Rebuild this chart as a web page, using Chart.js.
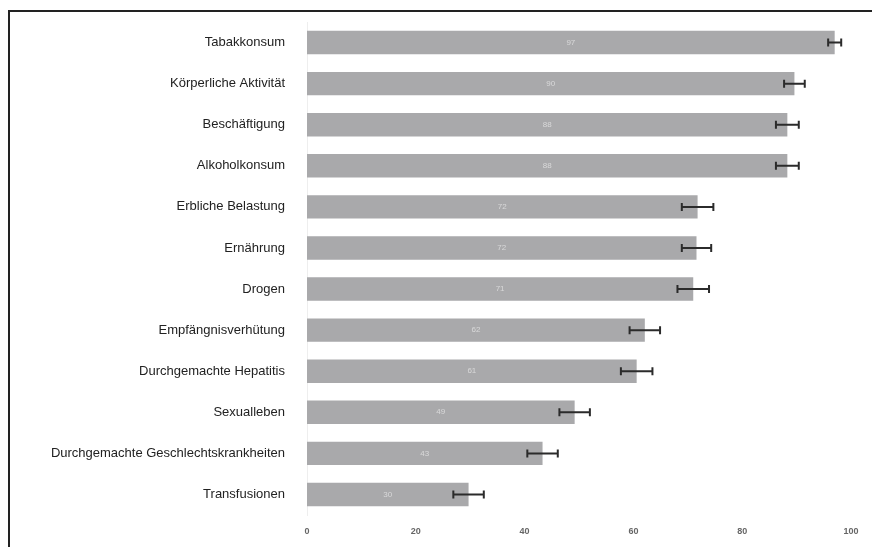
<!DOCTYPE html>
<html>
<head>
<meta charset="utf-8">
<script src="https://cdn.jsdelivr.net/npm/chart.js@4.4.1/dist/chart.umd.min.js"></script>
<style>
  html, body { margin: 0; padding: 0; background: #fff; overflow: hidden; }
  #wrap { position: relative; width: 872px; height: 547px; }
  #frame { position: absolute; left: 8px; top: 10px; width: 900px; height: 600px;
           border-top: 2px solid #222; border-left: 2px solid #222; }
  #chart { position: absolute; left: 0; top: 0; }
</style>
</head>
<body>
<div id="wrap">
  <div id="frame"></div>
  <canvas id="chart" width="872" height="547"></canvas>
</div>
<script>
const categories = [
  'Tabakkonsum',
  'Körperliche Aktivität',
  'Beschäftigung',
  'Alkoholkonsum',
  'Erbliche Belastung',
  'Ernährung',
  'Drogen',
  'Empfängnisverhütung',
  'Durchgemachte Hepatitis',
  'Sexualleben',
  'Durchgemachte Geschlechtskrankheiten',
  'Transfusionen'
];
const values = [97.0, 89.6, 88.3, 88.3, 71.8, 71.6, 71.0, 62.1, 60.6, 49.2, 43.3, 29.7];
const errors = [1.2, 1.9, 2.1, 2.1, 2.9, 2.7, 2.9, 2.8, 2.9, 2.8, 2.8, 2.8];
const xTicks = [0, 20, 40, 60, 80, 100];

const errorBars = {
  id: 'errorBars',
  afterDatasetsDraw(chart) {
    const ctx = chart.ctx;
    const x = chart.scales.x;
    const meta = chart.getDatasetMeta(0);
    ctx.save();
    ctx.strokeStyle = '#2b2b2b';
    ctx.lineWidth = 2;
    meta.data.forEach((bar, i) => {
      const y = bar.y;
      const x1 = x.getPixelForValue(values[i] - errors[i]);
      const x2 = x.getPixelForValue(values[i] + errors[i]);
      ctx.beginPath();
      ctx.moveTo(x1, y); ctx.lineTo(x2, y);
      ctx.moveTo(x1, y - 4); ctx.lineTo(x1, y + 4);
      ctx.moveTo(x2, y - 4); ctx.lineTo(x2, y + 4);
      ctx.stroke();
    });
    // faint value labels inside the bars
    ctx.fillStyle = 'rgba(255,255,255,0.55)';
    ctx.font = '8px "Liberation Sans", Arial, sans-serif';
    ctx.textAlign = 'center';
    ctx.textBaseline = 'middle';
    meta.data.forEach((bar, i) => {
      const mid = (x.getPixelForValue(0) + bar.x) / 2;
      ctx.fillText(Math.round(values[i]), mid, bar.y);
    });
    ctx.restore();
  }
};

new Chart(document.getElementById('chart'), {
  type: 'bar',
  data: {
    labels: categories,
    datasets: [{
      data: values,
      backgroundColor: '#a9a9ab',
      borderWidth: 0,
      barPercentage: 0.57,
      categoryPercentage: 1.0
    }]
  },
  options: {
    indexAxis: 'y',
    responsive: false,
    animation: false,
    layout: { padding: { top: 22, right: 21, bottom: 10, left: 0 } },
    plugins: { legend: { display: false }, tooltip: { enabled: false } },
    scales: {
      x: {
        min: 0,
        max: 100,
        afterBuildTicks: (scale) => { scale.ticks = xTicks.map(v => ({ value: v })); },
        afterFit: (scale) => { scale.height = 22; },
        grid: { display: false, drawTicks: true, tickLength: 4, color: '#ddd' },
        border: { display: false },
        ticks: {
          color: '#666',
          padding: 7,
          font: { family: '"Liberation Sans", Arial, sans-serif', size: 9, weight: 'bold' }
        }
      },
      y: {
        afterFit: (scale) => { scale.width = 307; },
        grid: { display: false },
        border: { display: true, color: '#eee', width: 1 },
        ticks: {
          color: '#222',
          padding: 14,
          font: { family: '"Liberation Sans", Arial, sans-serif', size: 13 }
        }
      }
    }
  },
  plugins: [errorBars]
});
</script>
</body>
</html>
